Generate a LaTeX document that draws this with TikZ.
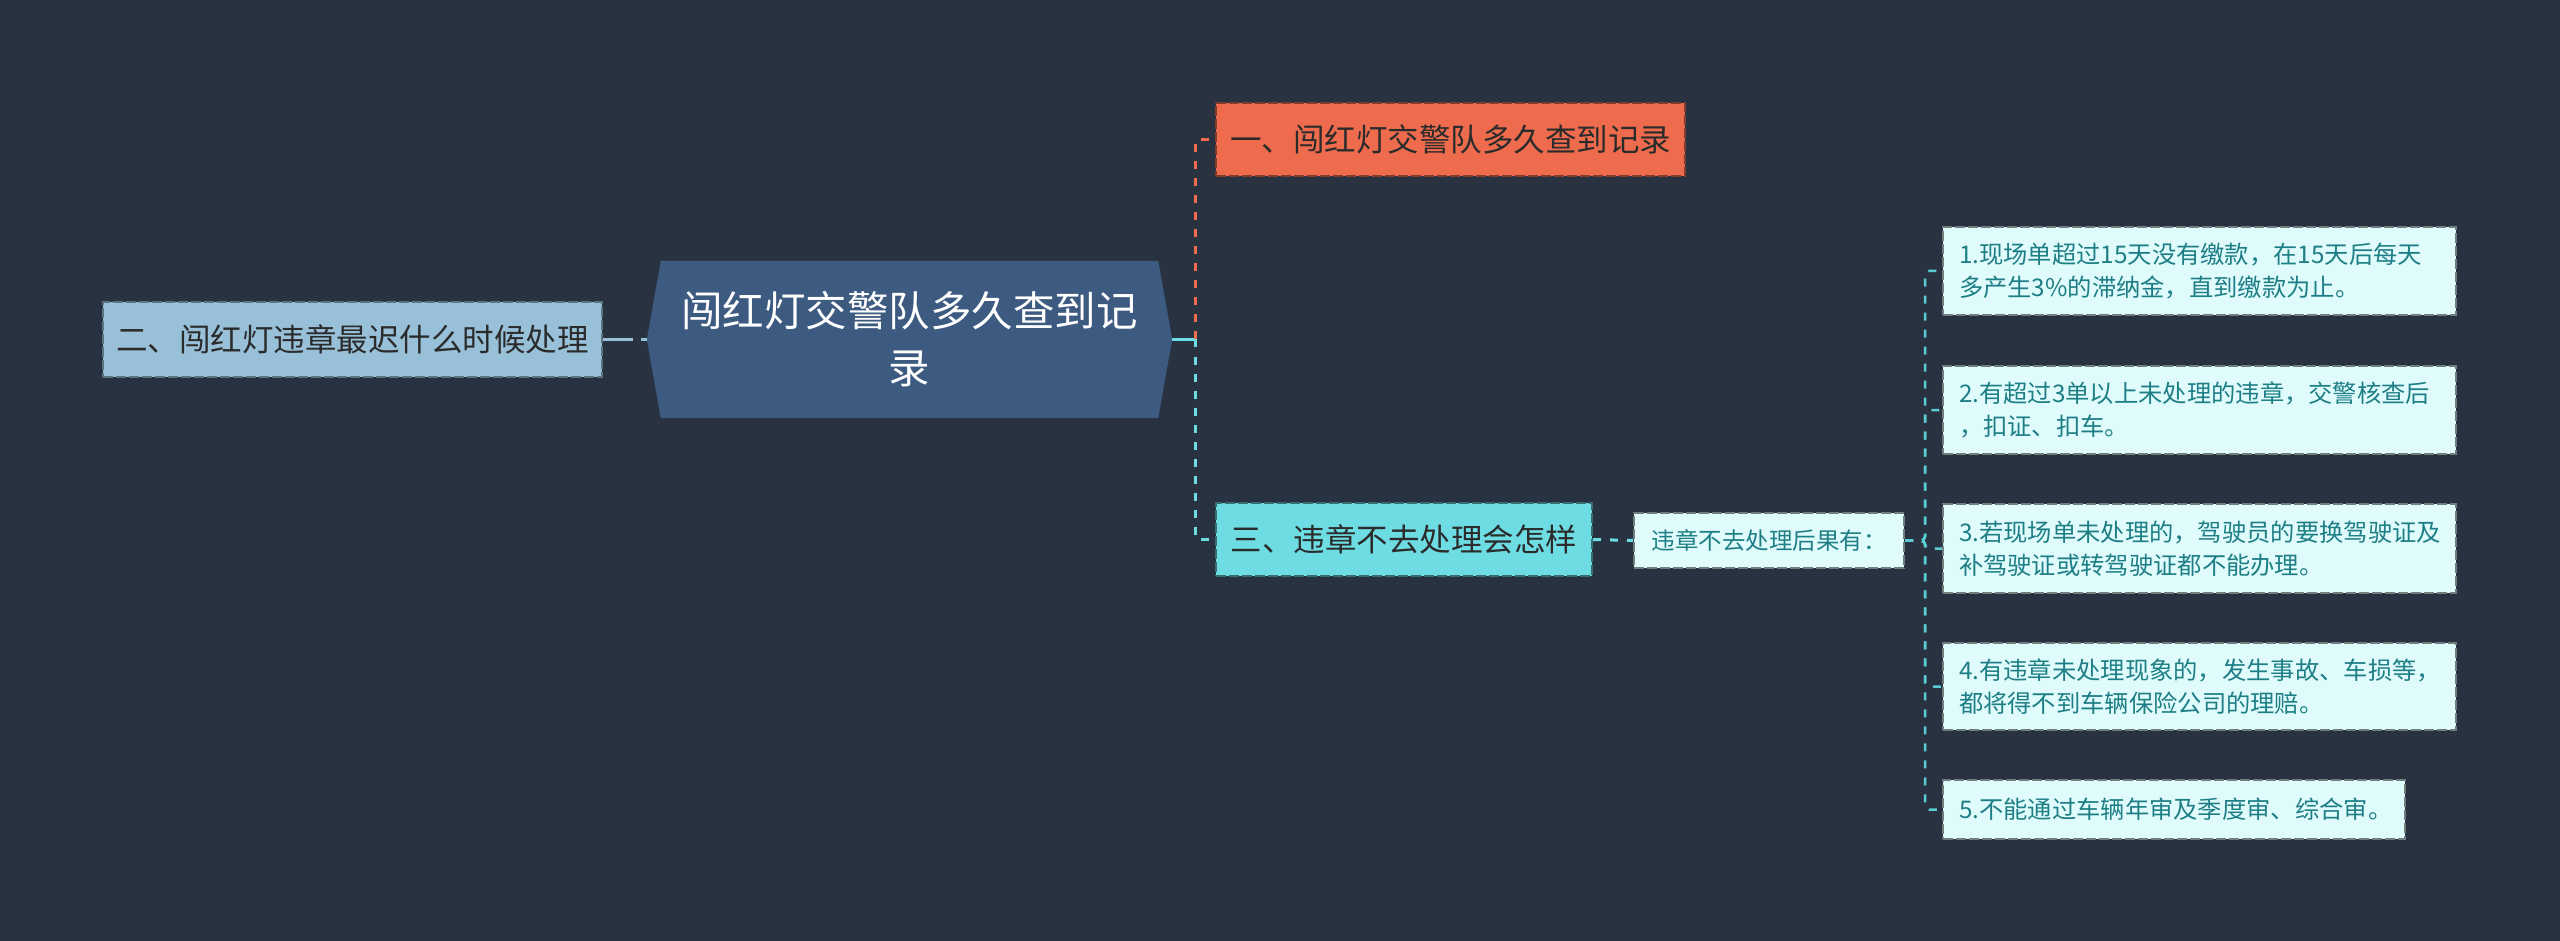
\documentclass[tikz,border=0pt]{standalone}
\usepackage{fontspec}
\setmainfont{Noto Sans CJK SC}
\usetikzlibrary{backgrounds}
\definecolor{bgc}{HTML}{293241}
\definecolor{mainfill}{HTML}{3D5A80}
\definecolor{leftfill}{HTML}{98C1D9}
\definecolor{orangefill}{HTML}{EE6C4D}
\definecolor{cyanfill}{HTML}{6DDDE3}
\definecolor{itemfill}{HTML}{E0FBFC}
\definecolor{itemtext}{HTML}{1D7F85}
\definecolor{darktext}{HTML}{2B2B2B}
\definecolor{itemline}{HTML}{5ACDD4}
\tikzset{
  boxbase/.style={rectangle, inner sep=0pt, line width=2pt, dash pattern=on 10pt off 3pt},
  leftbox/.style={boxbase, fill=leftfill, draw=leftfill!60!black, text=darktext,
    font=\fontsize{31.5}{38}\selectfont},
  orangebox/.style={boxbase, fill=orangefill, draw=orangefill!55!black, text=darktext,
    font=\fontsize{31.5}{38}\selectfont},
  cyanbox/.style={boxbase, fill=cyanfill, draw=cyanfill!50!black, text=darktext,
    font=\fontsize{31.5}{38}\selectfont},
  subbox/.style={boxbase, fill=itemfill, draw=itemfill!50!black, text=itemtext,
    font=\fontsize{23.5}{30}\selectfont},
  itembox/.style={boxbase, fill=itemfill, draw=itemfill!50!black, text=itemtext,
    font=\fontsize{24.3}{33}\selectfont, align=left, inner xsep=16pt},
  mainbox/.style={rectangle, inner sep=0pt, text=white, align=center,
    font=\fontsize{41.5}{57}\selectfont, minimum width=525pt, minimum height=157pt},
  conn/.style={line width=3pt, rounded corners=4pt},
  dconn/.style={conn, dash pattern=on 8pt off 9pt},
}
\begin{document}
\begin{tikzpicture}[x=1pt,y=-1pt]
\useasboundingbox (0,0) rectangle (2560,941);
\begin{scope}[on background layer]
\fill[bgc] (0,0) rectangle (2560,941);
\end{scope}

% central node
\node[mainbox] (c) at (909.5,339.5) {闯红灯交警队多久查到记\\录};
\begin{scope}[on background layer]
\fill[mainfill] (c.west) -- ([xshift=14pt]c.north west) -- ([xshift=-14pt]c.north east)
  -- (c.east) -- ([xshift=-14pt]c.south east) -- ([xshift=14pt]c.south west) -- cycle;
\end{scope}

% first level nodes
\node[leftbox, minimum width=499pt, minimum height=75pt] (l) at (352.5,339.5) {二、闯红灯违章最迟什么时候处理};
\node[orangebox, minimum width=469pt, minimum height=73pt] (o) at (1450.5,139.5) {一、闯红灯交警队多久查到记录};
\node[cyanbox, minimum width=376pt, minimum height=73pt] (cy) at (1404,539.5) {三、违章不去处理会怎样};

% second level
\node[subbox, minimum width=270pt, minimum height=55pt] (s) at (1769,540.5) {违章不去处理后果有：};

% items
\node[itembox, text width=481pt, minimum height=88pt] (i1) at (2199.5,271) {1.现场单超过15天没有缴款，在15天后每天\\多产生3\%的滞纳金，直到缴款为止。};
\node[itembox, text width=481pt, minimum height=88pt] (i2) at (2199.5,410) {2.有超过3单以上未处理的违章，交警核查后\\，扣证、扣车。};
\node[itembox, text width=481pt, minimum height=89pt] (i3) at (2199.5,548.5) {3.若现场单未处理的，驾驶员的要换驾驶证及\\补驾驶证或转驾驶证都不能办理。};
\node[itembox, text width=481pt, minimum height=87pt] (i4) at (2199.5,686.5) {4.有违章未处理现象的，发生事故、车损等，\\都将得不到车辆保险公司的理赔。};
\node[itembox, text width=430pt, minimum height=59pt] (i5) at (2174,809.5) {5.不能通过车辆年审及季度审、综合审。};

% connectors
\coordinate (j) at (1195,339.5);
\coordinate (k) at (1925,540.5);
\draw[dconn, draw=leftfill, dash pattern=on 30pt off 8pt] (l.east) -- (c.west);
\draw[conn, draw=cyanfill] (c.east) -- (j);
\draw[dconn, draw=orangefill] (j) |- (o.west);
\draw[dconn, draw=cyanfill] (j) |- (cy.west);
\draw[dconn, draw=cyanfill] (cy.east) -- (s.west);
\foreach \i in {i1,i2,i3,i4,i5}{
  \draw[dconn, draw=itemline, line width=2.5pt] (s.east) -- (k) |- (\i.west);
}
\end{tikzpicture}
\end{document}
